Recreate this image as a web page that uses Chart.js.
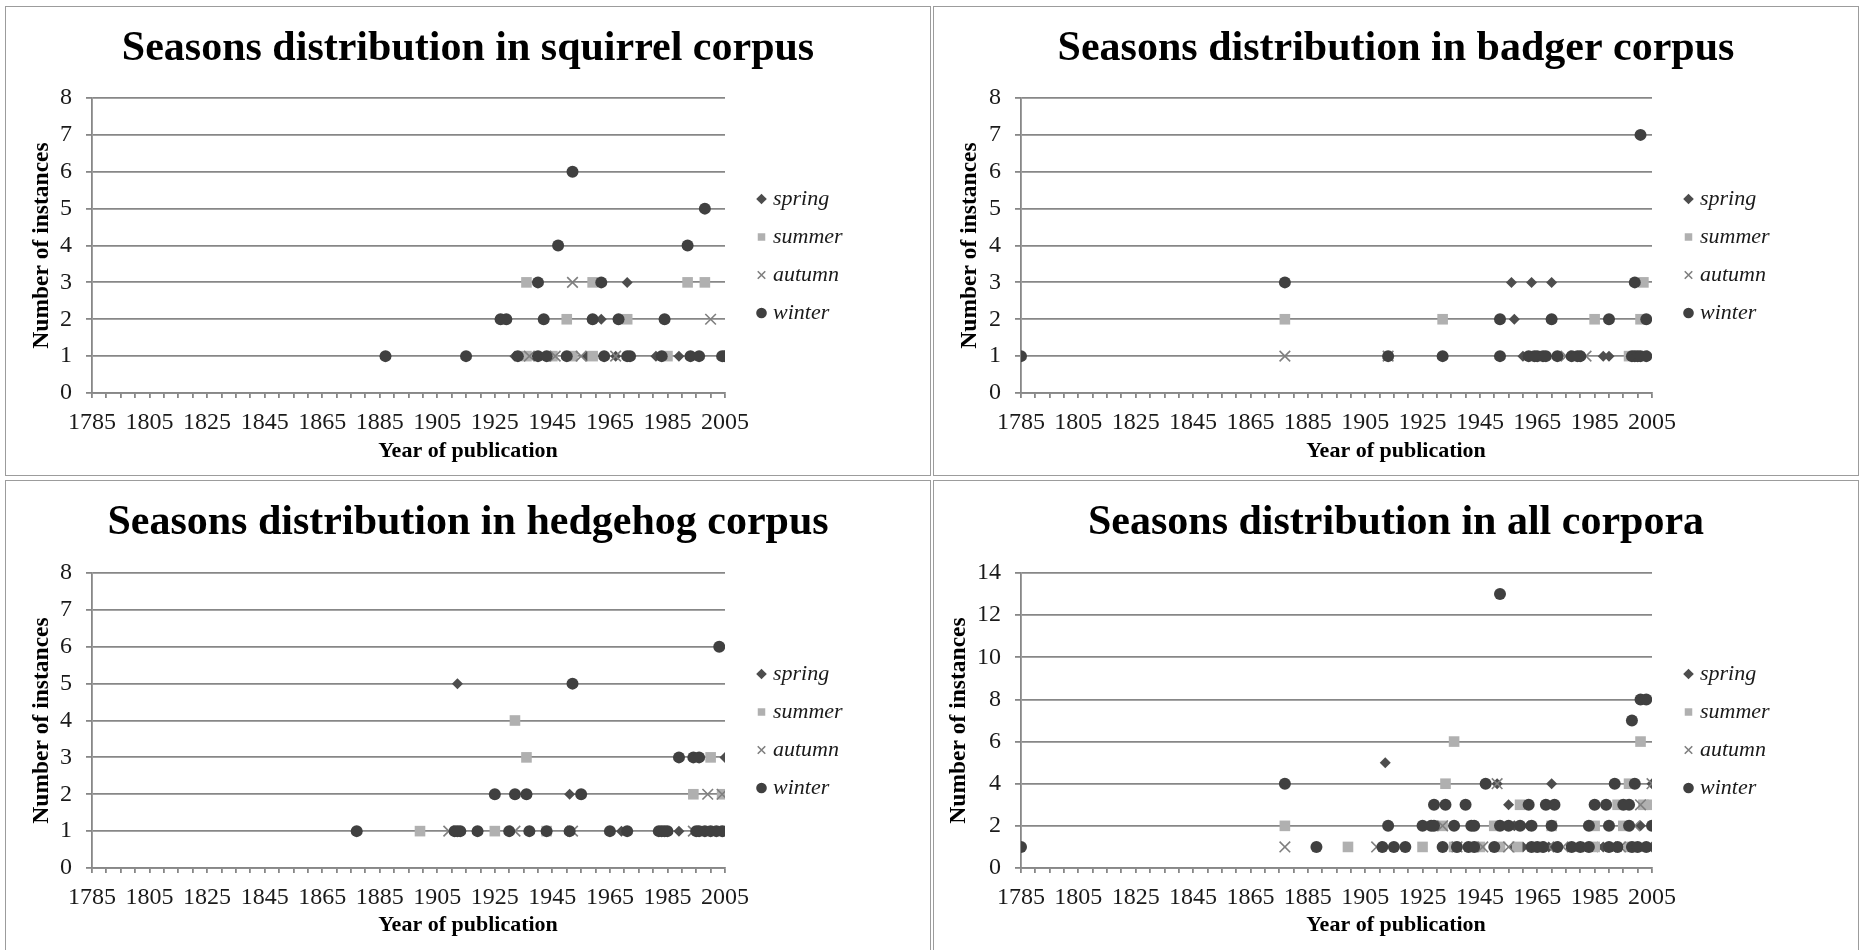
<!DOCTYPE html>
<html>
<head>
<meta charset="utf-8">
<title>Seasons distribution</title>
<script src="https://cdn.jsdelivr.net/npm/chart.js@4.4.1/dist/chart.umd.min.js"></script>
<style>
  html, body { margin: 0; padding: 0; background: #fff; }
  body { width: 1860px; height: 950px; position: relative; overflow: hidden; }
  .panel { position: absolute; box-sizing: border-box; border: 1px solid #9c9c9c; background: #fff; overflow: hidden; }
  .panel canvas { position: absolute; left: 0; top: 0; }
</style>
</head>
<body>
<div class="panel" style="left:5px;top:6px;width:926px;height:470px"><canvas id="squirrel" width="924" height="468"></canvas></div>
<div class="panel" style="left:933px;top:6px;width:926px;height:470px"><canvas id="badger" width="924" height="468"></canvas></div>
<div class="panel" style="left:5px;top:480px;width:926px;height:472px"><canvas id="hedgehog" width="924" height="468"></canvas></div>
<div class="panel" style="left:933px;top:480px;width:926px;height:472px"><canvas id="all" width="924" height="468"></canvas></div>

<script>
// [year of publication, number of instances]
const squirrelSpring = [[1932,1],[1944,1],[1957,1],[1967,1],[1981,1],[1989,1],[1962,2],[1971,3]];
const squirrelSummer = [[1936,1],[1945,1],[1952,1],[1959,1],[1985,1],[1950,2],[1971,2],[1936,3],[1959,3],[1992,3],[1998,3]];
const squirrelAutumn = [[1937,1],[1946,1],[1955,1],[1967,1],[2000,2],[1952,3]];
const squirrelWinter = [[1887,1],[1915,1],[1933,1],[1940,1],[1943,1],[1950,1],[1963,1],[1971,1],[1972,1],[1983,1],[1993,1],[1996,1],[2004,1],[2005,1],
  [1927,2],[1929,2],[1942,2],[1959,2],[1968,2],[1984,2],[1940,3],[1962,3],[1947,4],[1992,4],[1998,5],[1952,6]];

const badgerSpring = [[1960,1],[1988,1],[1990,1],[1957,2],[1956,3],[1963,3],[1970,3]];
const badgerSummer = [[1997,1],[1877,2],[1932,2],[1985,2],[2001,2],[2002,3]];
const badgerAutumn = [[1877,1],[1913,1],[1975,1],[1982,1],[2005,1]];
const badgerWinter = [[1785,1],[1913,1],[1932,1],[1952,1],[1962,1],[1964,1],[1965,1],[1967,1],[1968,1],[1972,1],[1977,1],[1979,1],[1980,1],
  [1998,1],[1999,1],[2000,1],[2001,1],[2003,1],[1952,2],[1970,2],[1990,2],[2003,2],[1877,3],[1999,3],[2001,7]];

const hedgehogSpring = [[1969,1],[1989,1],[1951,2],[2005,3],[1912,5]];
const hedgehogSummer = [[1899,1],[1925,1],[1943,1],[1994,2],[2004,2],[1936,3],[2000,3],[1932,4]];
const hedgehogAutumn = [[1909,1],[1932,1],[1952,1],[1994,1],[1999,2],[2004,2]];
const hedgehogWinter = [[1877,1],[1911,1],[1912,1],[1913,1],[1919,1],[1930,1],[1937,1],[1943,1],[1951,1],[1965,1],[1971,1],[1982,1],[1983,1],
  [1984,1],[1985,1],[1995,1],[1996,1],[1998,1],[2000,1],[2002,1],[2004,1],[1925,2],[1932,2],[1936,2],[1955,2],[1989,3],[1994,3],[1996,3],
  [1952,5],[2003,6]];

const allSpring = [[1932,1],[1944,1],[1957,1],[1960,1],[1967,1],[1969,1],[1981,1],[1986,1],[1988,1],[1990,1],[2005,1],[1951,2],[1957,2],
  [1962,2],[2001,2],[1955,3],[1971,3],[1951,4],[1970,4],[2005,4],[1912,5]];
const allSummer = [[1899,1],[1925,1],[1936,1],[1945,1],[1952,1],[1958,1],[1985,1],[1997,1],[1877,2],[1932,2],[1950,2],[1970,2],[1985,2],
  [1995,2],[1959,3],[1993,3],[2002,3],[2005,3],[1933,4],[1997,4],[1936,6],[2001,6]];
const allAutumn = [[1877,1],[1909,1],[1937,1],[1946,1],[1955,1],[1969,1],[1974,1],[1994,1],[1932,2],[1999,2],[2001,3],[1951,4],[2005,4]];
const allWinter = [[1785,1],[1888,1],[1911,1],[1915,1],[1919,1],[1932,1],[1937,1],[1941,1],[1943,1],[1950,1],[1963,1],[1965,1],[1967,1],
  [1972,1],[1977,1],[1980,1],[1983,1],[1990,1],[1993,1],[1998,1],[2000,1],[2003,1],[1913,2],[1925,2],[1928,2],[1929,2],[1936,2],[1942,2],
  [1943,2],[1952,2],[1955,2],[1959,2],[1963,2],[1970,2],[1983,2],[1990,2],[1997,2],[2005,2],[1929,3],[1933,3],[1940,3],[1962,3],[1968,3],
  [1971,3],[1985,3],[1989,3],[1995,3],[1997,3],[1877,4],[1947,4],[1992,4],[1999,4],[1998,7],[2001,8],[2003,8],[1952,13]];

const seasons = ['spring', 'summer', 'autumn', 'winter'];
const yearLabels = [1785, 1805, 1825, 1845, 1865, 1885, 1905, 1925, 1945, 1965, 1985, 2005];
const yearMin = 1785, yearMax = 2005, yearStep = 5;
const chartTitles = [
  'Seasons distribution in squirrel corpus',
  'Seasons distribution in badger corpus',
  'Seasons distribution in hedgehog corpus',
  'Seasons distribution in all corpora'
];
const yAxisMax = [8, 8, 8, 14];
const yAxisStep = [1, 1, 1, 2];
const xAxisTitle = 'Year of publication';
const yAxisTitle = 'Number of instances';

const serif = "'Liberation Serif', 'Times New Roman', serif";
Chart.defaults.font.family = serif;
Chart.defaults.color = '#1a1a1a';

const gridColor = '#878787';
const seasonStyles = {
  spring: { shape: 'rectRot', radius: 5.5, fill: '#4d4d4d', stroke: '#4d4d4d', width: 0, order: 3 },
  summer: { shape: 'rect', radius: 7.5, fill: '#b0b0b0', stroke: '#b0b0b0', width: 0, order: 2 },
  autumn: { shape: 'crossRot', radius: 7.5, fill: '#7f7f7f', stroke: '#7f7f7f', width: 1.6, order: 1 },
  winter: { shape: 'circle', radius: 6, fill: '#404040', stroke: '#404040', width: 0, order: 0 }
};

// canvas-space placement of each plot area; yTitleX is the centre of the rotated axis title
const panels = [
  { id: 'squirrel', series: [squirrelSpring, squirrelSummer, squirrelAutumn, squirrelWinter], left: 86, right: 719, top: 91, bottom: 386, yTitleX: 36 },
  { id: 'badger', series: [badgerSpring, badgerSummer, badgerAutumn, badgerWinter], left: 87, right: 718, top: 91, bottom: 386, yTitleX: 36 },
  { id: 'hedgehog', series: [hedgehogSpring, hedgehogSummer, hedgehogAutumn, hedgehogWinter], left: 86, right: 719, top: 92, bottom: 387, yTitleX: 36 },
  { id: 'all', series: [allSpring, allSummer, allAutumn, allWinter], left: 87, right: 718, top: 92, bottom: 387, yTitleX: 25 }
];

function seasonDataset(name, pairs) {
  const st = seasonStyles[name];
  return {
    label: name,
    data: pairs.map(([x, y]) => ({ x, y })),
    pointStyle: st.shape,
    pointRadius: st.radius,
    pointHoverRadius: st.radius,
    backgroundColor: st.fill,
    borderColor: st.stroke,
    borderWidth: st.width,
    order: st.order
  };
}

function buildChart(p, i) {
  const canvas = document.getElementById(p.id);
  const H = canvas.height;
  const pad = { inner: 20, outer: 60 };
  const titleSize = 42, titleLine = titleSize * 1.2;
  const titlePadTop = 42.5 - titleLine / 2;
  const xTitleSize = 22, xTitleLine = xTitleSize * 1.2, xTitlePadBottom = 10.8;
  const xTitleBox = xTitleLine + xTitlePadBottom;
  const yTitleSize = 23.5;

  const chart = new Chart(canvas, {
    type: 'scatter',
    data: { datasets: seasons.map((s, k) => seasonDataset(s, p.series[k])) },
    options: {
      responsive: false,
      animation: false,
      devicePixelRatio: 1,
      layout: { padding: 0 },
      plugins: {
        tooltip: { enabled: false },
        title: {
          display: true,
          text: chartTitles[i],
          color: '#000',
          font: { size: titleSize, weight: 'bold', lineHeight: 1.2 },
          padding: { top: titlePadTop, bottom: p.top - titlePadTop - titleLine }
        },
        // the x axis title is centred on the whole panel in the original, so it is a bottom subtitle here
        subtitle: {
          display: true,
          position: 'bottom',
          text: xAxisTitle,
          color: '#000',
          font: { size: xTitleSize, weight: 'bold', lineHeight: 1.2 },
          padding: { top: 0, bottom: xTitlePadBottom }
        },
        legend: {
          position: 'right',
          align: 'start',
          fullSize: false,
          title: { display: true, text: '', font: { size: 10, lineHeight: 1 }, padding: { top: 64, bottom: 0 } },
          labels: {
            usePointStyle: true,
            boxWidth: 1,
            boxHeight: 7.5,
            padding: 16,
            color: '#1a1a1a',
            font: { size: 22, style: 'italic' },
            sort: (a, b) => a.datasetIndex - b.datasetIndex
          }
        }
      },
      scales: {
        x: {
          type: 'linear',
          min: yearMin,
          max: yearMax,
          ticks: {
            stepSize: yearStep,
            autoSkip: false,
            maxRotation: 0,
            padding: 10.6,
            font: { size: 24 },
            callback: v => yearLabels.includes(v) ? String(v) : ''
          },
          grid: { drawOnChartArea: false, drawTicks: true, tickLength: 5, color: gridColor, lineWidth: 1.8 },
          border: { display: true, color: gridColor, width: 1.8 },
          afterFit: s => { s.height = H - p.bottom - xTitleBox; }
        },
        y: {
          type: 'linear',
          min: 0,
          max: yAxisMax[i],
          ticks: { stepSize: yAxisStep[i], padding: 14, font: { size: 24 } },
          grid: { color: gridColor, lineWidth: 1.8, drawTicks: true, tickLength: 6 },
          border: { display: true, color: gridColor, width: 1.8 },
          title: {
            display: true,
            text: yAxisTitle,
            color: '#000',
            font: { size: yTitleSize, weight: 'bold', lineHeight: 1.2 },
            padding: { top: p.yTitleX - yTitleSize * 0.6, bottom: 0 }
          },
          afterFit: s => { s.width = p.left; }
        },
        // spacers so the legend sits where the original one does
        padInner: {
          axis: 'y', type: 'linear', position: 'right', weight: 0,
          ticks: { display: false }, grid: { display: false }, border: { display: false },
          afterFit: s => { s.width = pad.inner; }
        },
        padOuter: {
          axis: 'y', type: 'linear', position: 'right', weight: 2000,
          ticks: { display: false }, grid: { display: false }, border: { display: false },
          afterFit: s => { s.width = pad.outer; }
        }
      }
    }
  });

  const diff = chart.chartArea.right - p.right;
  if (Math.abs(diff) > 0.5) {
    pad.outer = Math.max(0, pad.outer + diff);
    chart.update();
  }
  return chart;
}

panels.forEach(buildChart);
</script>
</body>
</html>
